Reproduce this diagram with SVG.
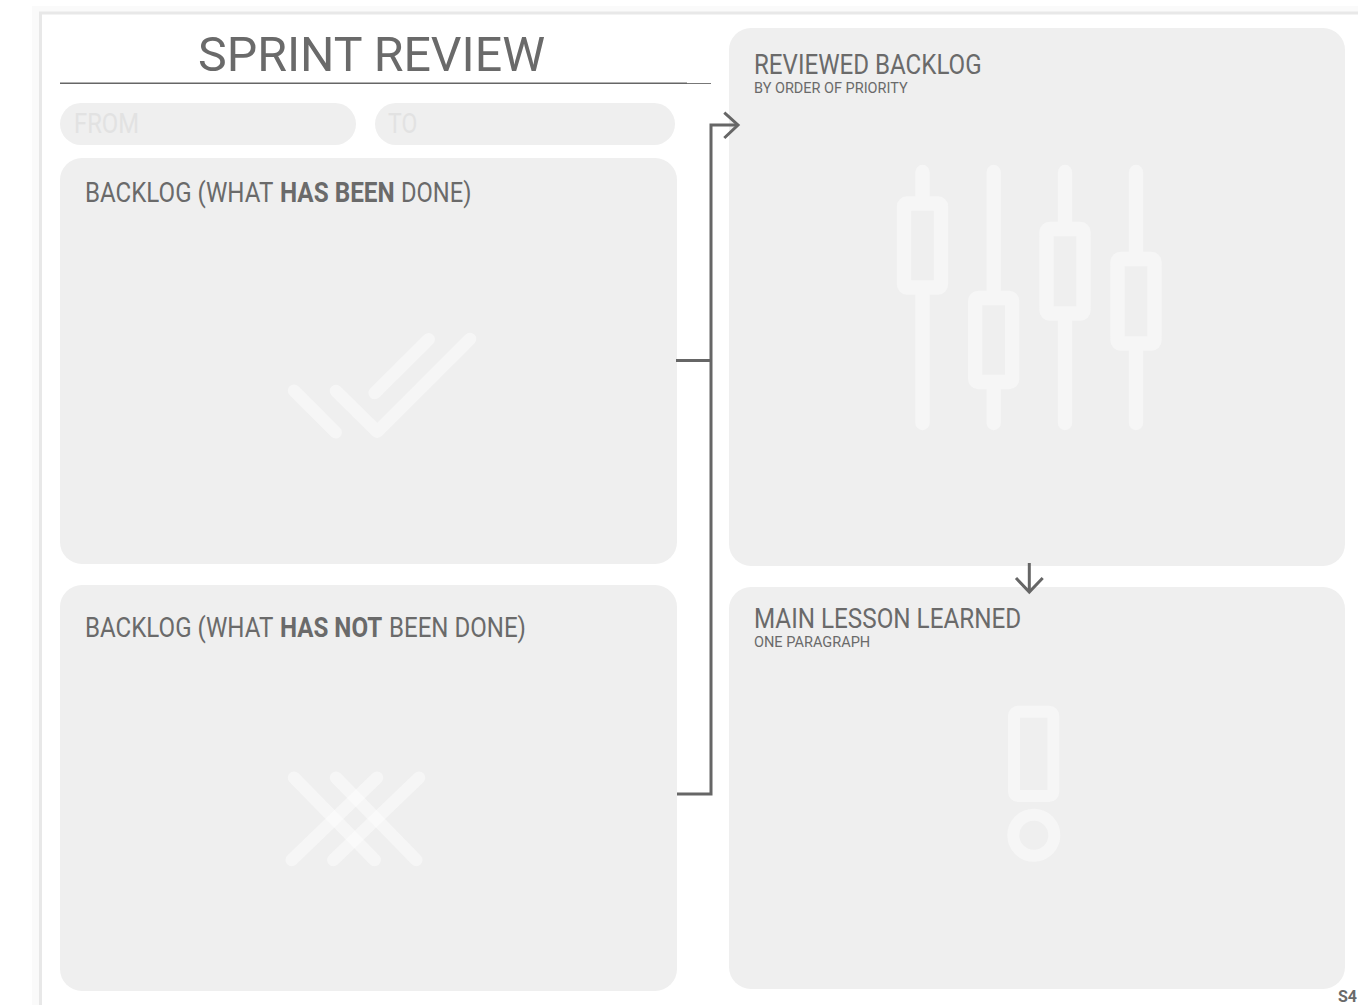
<svg xmlns="http://www.w3.org/2000/svg" width="1358" height="1005" viewBox="0 0 1358 1005">
<style>
text{font-family:Roboto,"Liberation Sans",sans-serif;fill:#6a6a6a}
.panel{fill:#efefef}
.h{font-size:27px}
.sub{font-size:15px}
.b{font-weight:700}
.ph{font-size:28px;fill:#e2e2e2}
.ico{fill:none;stroke:#fff;stroke-opacity:.45;stroke-width:12.5;stroke-linecap:round}
.sl{fill:none;stroke:#f6f6f6;stroke-width:14.3;stroke-linecap:round}
.ex{fill:none;stroke:#f6f6f6;stroke-width:12}
.con{fill:none;stroke:#666;stroke-width:3}
</style>
<rect width="1358" height="1005" fill="#fff"/>
<g id="page">
<rect x="32" y="6" width="1340" height="1010" fill="#fafafa"/>
<rect x="40.500" y="13" width="1340" height="1010" fill="#fff" stroke="#e8e8e8" stroke-width="3"/>
</g>
<g id="title">
<text x="198" y="71" font-size="49" textLength="347" lengthAdjust="spacingAndGlyphs">SPRINT REVIEW</text>
<rect x="60" y="82.500" width="627" height="1.500" fill="#666"/>
<rect x="687" y="83" width="24" height="1" fill="#777"/>
</g>
<g id="from">
<rect x="60" y="103" width="296" height="42" rx="21" class="panel"/>
<text transform="translate(74 133) scale(.852 1)" class="ph">FROM</text>
</g>
<g id="to">
<rect x="375" y="103" width="300" height="42" rx="21" class="panel"/>
<text transform="translate(388 133) scale(.82 1)" class="ph">TO</text>
</g>
<g id="done">
<rect x="60" y="158" width="617" height="406" rx="22" class="panel"/>
<text transform="translate(85 202) scale(.892 1)" class="h">BACKLOG (WHAT</text>
<text transform="translate(280 202) scale(.9 1)" class="h b">HAS BEEN</text>
<text transform="translate(401 202) scale(.878 1)" class="h">DONE)</text>
<path class="ico" d="M470 339L377.300 431.700L336 391M428.700 339.300L374.700 393M294 390.700L335.700 432.300" stroke-linejoin="round"/>
</g>
<g id="not-done">
<rect x="60" y="585" width="617" height="406" rx="22" class="panel"/>
<text transform="translate(85 637) scale(.892 1)" class="h">BACKLOG (WHAT</text>
<text transform="translate(280 637) scale(.895 1)" class="h b">HAS NOT</text>
<text transform="translate(389 637) scale(.891 1)" class="h">BEEN DONE)</text>
<path class="ico" d="M294 777.700L374.700 860"/>
<path class="ico" d="M336 777.700L416.300 860"/>
<path class="ico" d="M377 777.700L291.700 860"/>
<path class="ico" d="M419 777.700L333.300 860"/>
</g>
<g id="reviewed">
<rect x="729" y="28" width="616" height="538" rx="22" class="panel"/>
<text transform="translate(754 74) scale(.893 1)" class="h">REVIEWED BACKLOG</text>
<text transform="translate(754 93) scale(.966 1)" class="sub">BY ORDER OF PRIORITY</text>
<g class="sl">
<path d="M922.500 172V196M922.500 295V423"/>
<rect x="904" y="203.500" width="37" height="84" rx="3"/>
<path d="M993.700 172V291M993.700 389V423"/>
<rect x="975.200" y="298" width="37" height="84" rx="3"/>
<path d="M1065 172V222M1065 321V423"/>
<rect x="1046.500" y="229" width="37" height="84.500" rx="3"/>
<path d="M1136 172V252M1136 351V423"/>
<rect x="1117.500" y="259" width="37" height="84.500" rx="3"/>
</g>
</g>
<g id="lesson">
<rect x="729" y="587" width="616" height="402" rx="22" class="panel"/>
<text transform="translate(754 628) scale(.898 1)" class="h">MAIN LESSON LEARNED</text>
<text transform="translate(754 647) scale(.97 1)" class="sub">ONE PARAGRAPH</text>
<rect class="ex" x="1014" y="711.700" width="39.300" height="84.300" rx="4"/>
<circle class="ex" cx="1033.800" cy="835.300" r="20.500"/>
</g>
<g id="connectors">
<path class="con" d="M676 360.500H711M677 794H711V125H738"/>
<path class="con" d="M724.300 112.700L738 125L724.300 138"/>
<path class="con" d="M1029.300 563V591"/>
<path class="con" d="M1016 578L1029.300 592L1042.700 578"/>
</g>
<g id="code"><text x="1338" y="1002" font-size="16" class="b">S4</text></g>
</svg>
